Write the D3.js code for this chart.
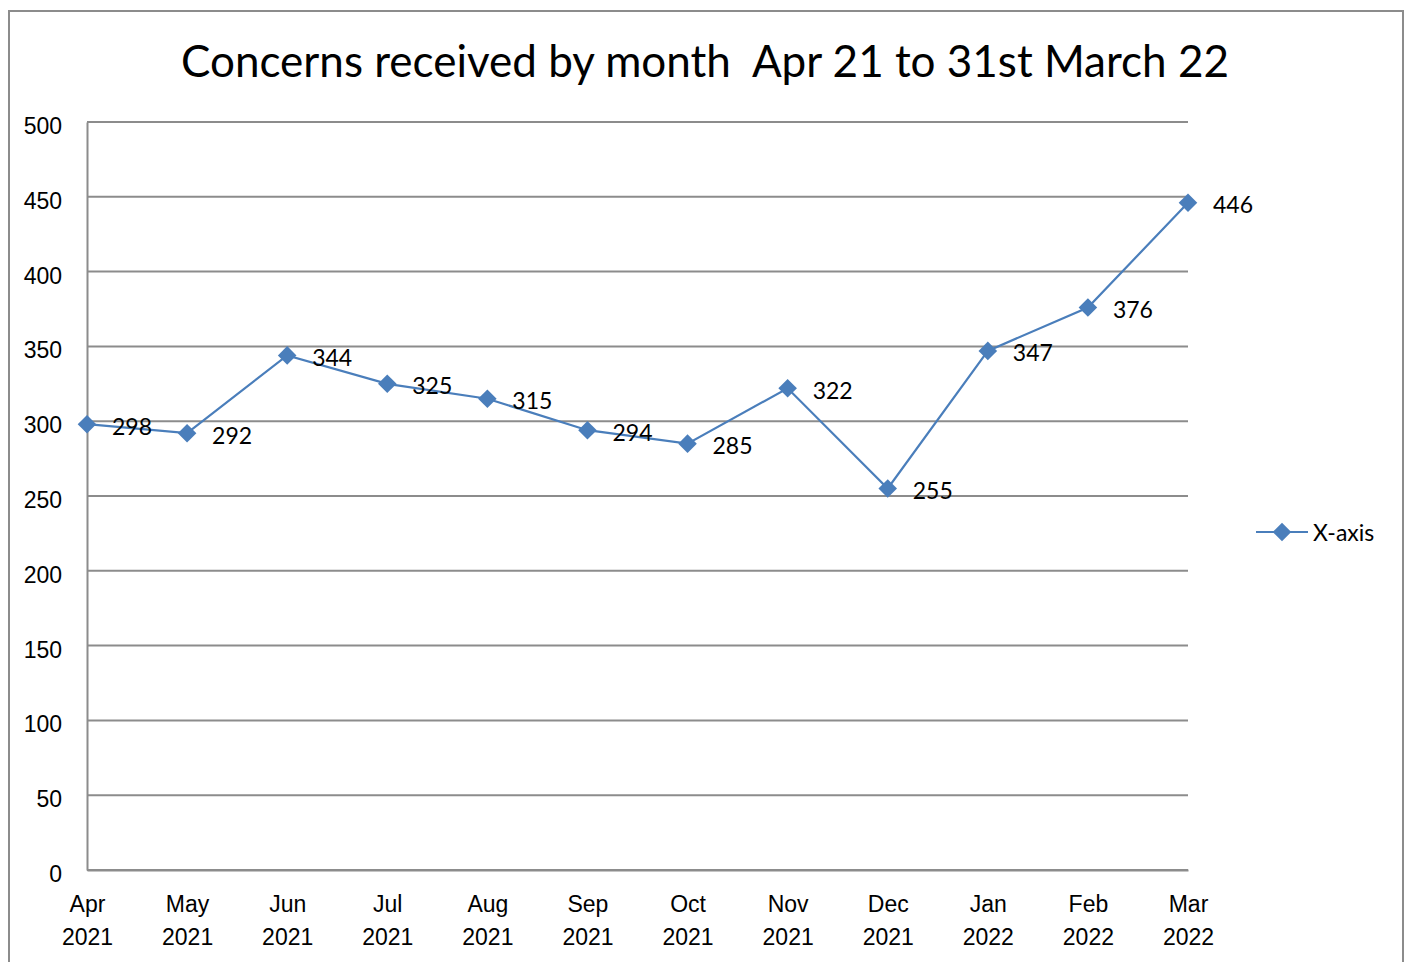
<!DOCTYPE html>
<html>
<head>
<meta charset="utf-8">
<script src="https://cdn.jsdelivr.net/npm/d3@7"></script>
<style>
  body { margin: 0; background: #fff; }
  svg { font-family: Lato, "Open Sans", sans-serif; }
</style>
</head>
<body>
<svg id="chart" width="1409" height="962"></svg>
<script>
const months = ['Apr', 'May', 'Jun', 'Jul', 'Aug', 'Sep', 'Oct', 'Nov', 'Dec', 'Jan', 'Feb', 'Mar'];
const years = ['2021', '2021', '2021', '2021', '2021', '2021', '2021', '2021', '2021', '2022', '2022', '2022'];
const concerns = [298, 292, 344, 325, 315, 294, 285, 322, 255, 347, 376, 446];
const yTicks = [0, 50, 100, 150, 200, 250, 300, 350, 400, 450, 500];
const seriesName = 'X-axis';
const title = 'Concerns received by month\u00a0\u00a0Apr 21 to 31st March 22';

const svg = d3.select('#chart');
const blue = '#4a7ebb';
const grey = '#8c8c8c';

// outer frame (bottom edge runs off the page)
svg.append('path')
  .attr('d', 'M9,972 V11 H1403 V972')
  .attr('fill', 'none')
  .attr('stroke', grey)
  .attr('stroke-width', 2);

svg.append('text')
  .attr('x', 705).attr('y', 77)
  .attr('text-anchor', 'middle')
  .style('font-size', '44px')
  .text(title);

const margin = { left: 87, right: 221, top: 122, bottom: 92 };
const width = 1409 - margin.left - margin.right;
const height = 962 - margin.top - margin.bottom;

const x = d3.scalePoint().domain(d3.range(months.length)).range([0, width]);
const y = d3.scaleLinear().domain([0, 500]).range([height, 0]);

const g = svg.append('g')
  .attr('transform', `translate(${margin.left},${margin.top})`);

// gridlines
g.append('g')
  .selectAll('line')
  .data(yTicks)
  .join('line')
  .attr('x1', 0).attr('x2', width)
  .attr('y1', d => y(d)).attr('y2', d => y(d))
  .attr('stroke', grey)
  .attr('stroke-width', 2);

// y axis
const yAxis = g.append('g')
  .call(d3.axisLeft(y).tickValues(yTicks).tickSize(0).tickPadding(25));
yAxis.select('.domain').attr('stroke', grey).attr('stroke-width', 2);
yAxis.selectAll('text').style('font-size', '23px').attr('fill', '#000')
  .attr('font-family', null).attr('dy', '0.5em');

// x axis
const xAxis = g.append('g')
  .attr('transform', `translate(0,${height})`)
  .call(d3.axisBottom(x).tickSize(0).tickFormat(''));
xAxis.select('.domain').attr('stroke', grey).attr('stroke-width', 2);
xAxis.selectAll('.tick text').remove();
xAxis.selectAll('.tick')
  .append('text')
  .attr('text-anchor', 'middle')
  .attr('fill', '#000')
  .style('font-size', '23px')
  .each(function(d) {
    const t = d3.select(this);
    t.append('tspan').attr('x', 0).attr('y', 42).text(months[d]);
    t.append('tspan').attr('x', 0).attr('y', 75).text(years[d]);
  });

// line
const line = d3.line()
  .x((d, i) => x(i))
  .y(d => y(d));

g.append('path')
  .datum(concerns)
  .attr('d', line)
  .attr('fill', 'none')
  .attr('stroke', blue)
  .attr('stroke-width', 2.2);

const diamond = d3.symbol().type(d3.symbolDiamond2).size(220);

g.selectAll('.point')
  .data(concerns)
  .join('path')
  .attr('class', 'point')
  .attr('d', diamond)
  .attr('transform', (d, i) => `translate(${x(i)},${y(d)})`)
  .attr('fill', blue);

g.selectAll('.label')
  .data(concerns)
  .join('text')
  .attr('class', 'label')
  .attr('x', (d, i) => x(i) + 25)
  .attr('y', d => y(d))
  .attr('dy', '0.45em')
  .style('font-size', '23px')
  .text(d => d);

// legend
const legend = svg.append('g').attr('transform', 'translate(1256,532)');
legend.append('line')
  .attr('x1', 0).attr('x2', 52)
  .attr('stroke', blue).attr('stroke-width', 2.2);
legend.append('path')
  .attr('d', diamond)
  .attr('transform', 'translate(26,0)')
  .attr('fill', blue);
legend.append('text')
  .attr('x', 57).attr('dy', '0.4em')
  .style('font-size', '23px')
  .text(seriesName);
</script>
</body>
</html>
